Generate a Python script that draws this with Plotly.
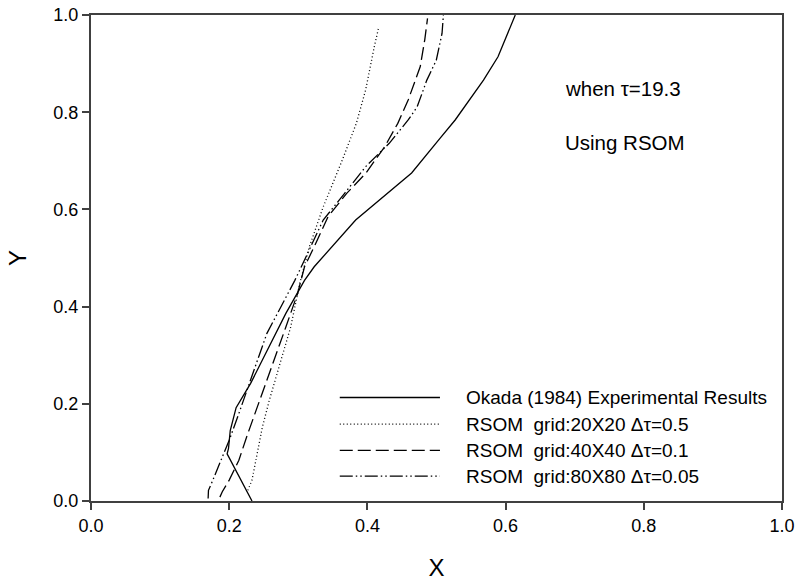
import plotly.graph_objects as go

# Okada (1984) Experimental Results
okada_x = [0.233, 0.197, 0.199, 0.2015, 0.210, 0.231, 0.248, 0.282, 0.309, 0.323, 0.383, 0.410, 0.464, 0.505, 0.527, 0.568, 0.589, 0.614]
okada_y = [0.0, 0.097, 0.108, 0.145, 0.192, 0.242, 0.290, 0.386, 0.454, 0.482, 0.578, 0.611, 0.675, 0.746, 0.784, 0.866, 0.914, 1.0]

# RSOM grid 20x20
g20_x = [0.227, 0.233, 0.248, 0.258, 0.275, 0.289, 0.302, 0.316, 0.336, 0.3635, 0.384, 0.3975, 0.410, 0.4166]
g20_y = [0.022, 0.043, 0.152, 0.207, 0.290, 0.358, 0.447, 0.523, 0.605, 0.701, 0.777, 0.846, 0.935, 0.976]

# RSOM grid 40x40
g40_x = [0.1865, 0.190, 0.200, 0.214, 0.227, 0.241, 0.2546, 0.268, 0.282, 0.299, 0.309, 0.323, 0.343, 0.370, 0.3975, 0.425, 0.444, 0.459, 0.4765, 0.483, 0.487]
g40_y = [0.008, 0.019, 0.043, 0.084, 0.139, 0.194, 0.248, 0.303, 0.358, 0.427, 0.482, 0.523, 0.585, 0.633, 0.674, 0.729, 0.777, 0.825, 0.894, 0.949, 0.993]

# RSOM grid 80x80
g80_x = [0.1695, 0.170, 0.1743, 0.1865, 0.200, 0.214, 0.227, 0.241, 0.2546, 0.275, 0.295, 0.309, 0.336, 0.367, 0.3975, 0.4316, 0.459, 0.472, 0.486, 0.4997, 0.508, 0.510]
g80_y = [0.005, 0.022, 0.036, 0.077, 0.125, 0.180, 0.235, 0.290, 0.345, 0.400, 0.454, 0.496, 0.578, 0.633, 0.688, 0.736, 0.784, 0.811, 0.866, 0.907, 0.962, 1.0]

names = ["Okada (1984) Experimental Results",
         "RSOM  grid:20X20 \u0394\u03c4=0.5",
         "RSOM  grid:40X40 \u0394\u03c4=0.1",
         "RSOM  grid:80X80 \u0394\u03c4=0.05"]
dashes = ["solid", "1px,2.5px", "13px,5px", "13px,3px,1.5px,3px,1.5px,3px"]
series = [(okada_x, okada_y), (g20_x, g20_y), (g40_x, g40_y), (g80_x, g80_y)]

tick_vals = [0.0, 0.2, 0.4, 0.6, 0.8, 1.0]
tick_text = ["0.0", "0.2", "0.4", "0.6", "0.8", "1.0"]

FONT = "Liberation Sans, Arial"

fig = go.Figure()
for (xs, ys), nm, ds in zip(series, names, dashes):
    fig.add_trace(go.Scatter(x=xs, y=ys, mode="lines", name=nm, showlegend=False,
                             line=dict(color="black", width=1.3, dash=ds)))

# manual legend (long line samples like the original)
leg_y = [0.213, 0.158, 0.104, 0.051]
for ly, nm, ds in zip(leg_y, names, dashes):
    fig.add_shape(type="line", x0=0.36, x1=0.505, y0=ly, y1=ly, xref="x", yref="y",
                  line=dict(color="black", width=1.3, dash=ds))
    fig.add_annotation(x=0.54, y=ly, xref="x", yref="y", text=nm, showarrow=False,
                       xanchor="left", yanchor="middle",
                       font=dict(family=FONT, size=19, color="black"))

fig.add_annotation(x=0.683, y=0.848, xref="x", yref="y", text="when \u03c4=19.3", showarrow=False,
                   xanchor="left", yanchor="middle",
                   font=dict(family=FONT, size=20.5, color="black"))
fig.add_annotation(x=0.683, y=0.737, xref="x", yref="y", text="Using RSOM", showarrow=False,
                   xanchor="left", yanchor="middle",
                   font=dict(family=FONT, size=20.5, color="black"))

axis_common = dict(range=[0, 1], tickvals=tick_vals, ticktext=tick_text, ticks="outside",
                   ticklen=7, tickwidth=1.5, tickcolor="#404040", showline=True,
                   linecolor="#404040", linewidth=2, mirror=True, showgrid=False,
                   zeroline=False, automargin=False,
                   tickfont=dict(family=FONT, size=18, color="black"))

fig.update_layout(
    width=797, height=581,
    paper_bgcolor="white", plot_bgcolor="white",
    margin=dict(l=91, r=15, t=15, b=80),
    xaxis=dict(title=dict(text="X", font=dict(family=FONT, size=24, color="black"), standoff=27),
               **axis_common),
    yaxis=dict(title=dict(text="Y", font=dict(family=FONT, size=24, color="black"), standoff=20),
               **axis_common),
)

fig.write_html("out.html")
